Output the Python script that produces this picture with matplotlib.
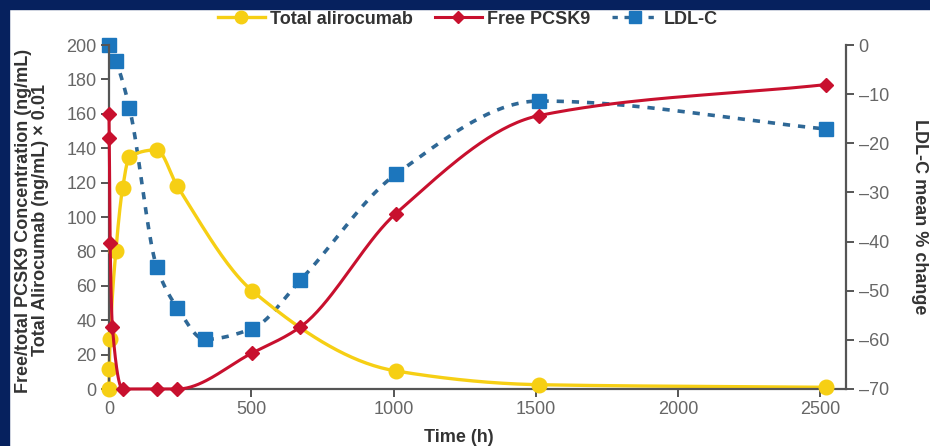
import numpy as np
import matplotlib
matplotlib.use("Agg")
import matplotlib.pyplot as plt
from matplotlib.patches import Rectangle

# ---- data ----
t_alir = [0, 1, 4, 24, 48, 72, 168, 240, 504, 1008, 1512, 2520]
alir = [0, 11.5, 29, 80, 117, 135, 139, 118, 57, 10.5, 2.5, 1]

t_pcsk9 = [0, 1, 4, 12, 48, 168, 240, 504, 672, 1008, 1512, 2520]
pcsk9 = [160, 146, 85, 36, 0, 0, 0, 21, 36, 102, 159, 177]

t_ldl = [0, 24, 72, 168, 240, 336, 504, 672, 1008, 1512, 2520]
ldl = [0, -3.2, -12.8, -45.2, -53.5, -59.9, -57.7, -47.9, -26.3, -11.4, -17.1]

xticks = [0, 500, 1000, 1500, 2000, 2500]
yticks_left = list(range(0, 201, 20))
yticks_right = list(range(-70, 1, 10))

YELLOW = "#f6cf14"
RED = "#c8102e"
BLUE = "#1c76bd"
BLUE_LINE = "#2f6896"
NAVY = "#06215e"
GREY = "#555555"


def pchip(x, y):
    # monotone cubic through the points, only used to draw a smooth line
    x = np.asarray(x, float)
    y = np.asarray(y, float)
    h = np.diff(x)
    d = np.diff(y) / h
    m = np.zeros_like(y)
    for k in range(1, len(x) - 1):
        if d[k - 1] * d[k] > 0:
            w1 = 2 * h[k] + h[k - 1]
            w2 = h[k] + 2 * h[k - 1]
            m[k] = (w1 + w2) / (w1 / d[k - 1] + w2 / d[k])
    m[0] = d[0]
    m[-1] = d[-1]
    xs, ys = [], []
    tt = np.linspace(0, 1, 40)
    h00 = 2 * tt**3 - 3 * tt**2 + 1
    h10 = tt**3 - 2 * tt**2 + tt
    h01 = -2 * tt**3 + 3 * tt**2
    h11 = tt**3 - tt**2
    for k in range(len(h)):
        xs.append(x[k] + tt * h[k])
        ys.append(h00 * y[k] + h10 * h[k] * m[k] + h01 * y[k + 1] + h11 * h[k] * m[k + 1])
    return np.concatenate(xs), np.concatenate(ys)


plt.rcParams['font.family'] = ['Liberation Sans', 'DejaVu Sans']

fig = plt.figure(figsize=(9.3, 4.46), dpi=100)
fig.patch.set_facecolor("white")
# navy frame at top and left
fig.patches.append(Rectangle((0, 1 - 9 / 446), 1, 9 / 446, transform=fig.transFigure, color=NAVY, zorder=0))
fig.patches.append(Rectangle((0, 0), 9 / 930, 1, transform=fig.transFigure, color=NAVY, zorder=0))

ax = fig.add_axes([109 / 930, 57 / 446, 737 / 930, 344 / 446])
ax2 = ax.twinx()
ax.set_zorder(ax2.get_zorder() + 1)
ax.patch.set_visible(False)

# LDL-C on the right axis
xs, ys = pchip(t_ldl, ldl)
ax2.plot(xs, ys, color=BLUE_LINE, lw=2.6, dashes=(2.0, 2.2), zorder=2)
ax2.plot(t_ldl, ldl, ls="none", marker="s", ms=10, color=BLUE, mec=BLUE, clip_on=False, zorder=3)

# Total alirocumab and free PCSK9 on the left axis
xs, ys = pchip(t_alir, alir)
ax.plot(xs, ys, color=YELLOW, lw=2.4, zorder=2, clip_on=False)
ax.plot(t_alir, alir, ls="none", marker="o", ms=10.5, color=YELLOW, clip_on=False, zorder=3)

xs, ys = pchip(t_pcsk9, pcsk9)
ax.plot(xs, ys, color=RED, lw=2.2, zorder=4, clip_on=False)
ax.plot(t_pcsk9, pcsk9, ls="none", marker="D", ms=7, color=RED, clip_on=False, zorder=5)

ax.set_xlim(0, 2590)
ax.set_ylim(0, 200)
ax2.set_ylim(-70, 0)

for a in (ax, ax2):
    a.spines["top"].set_visible(False)
    for s in a.spines.values():
        s.set_color(GREY)
        s.set_linewidth(1.6)
ax.spines["right"].set_visible(False)
ax2.spines["left"].set_visible(False)
ax2.spines["bottom"].set_visible(False)

ax.set_xticks(xticks)
ax.set_yticks(yticks_left)
ax2.set_yticks(yticks_right)
ax2.set_yticklabels([str(v).replace("-", "\u2013") for v in yticks_right])
ax.tick_params(axis="both", colors=GREY, labelcolor="#666666", labelsize=13, length=6, width=1.4,
               direction="out", pad=3)
ax2.tick_params(axis="y", colors=GREY, labelcolor="#666666", labelsize=13, length=6, width=1.4,
                direction="out", pad=3)

ax.set_xlabel("Time (h)", fontsize=13, fontweight="bold", color="#333333")
ax.xaxis.set_label_coords(0.475, -0.115)
ax.set_ylabel("Free/total PCSK9 Concentration (ng/mL)\nTotal Alirocumab (ng/mL) \u00d7 0.01",
              fontsize=13, fontweight="bold", color="#333333", linespacing=1.05)
ax.yaxis.set_label_coords(-0.081, 0.49)
ax2.set_ylabel("LDL-C mean % change", fontsize=13, fontweight="bold", color="#333333", rotation=270)
ax2.yaxis.set_label_coords(1.111, 0.5)

# legend at top
h1, = ax.plot([], [], color=YELLOW, lw=2.4, marker="o", ms=9)
h2, = ax.plot([], [], color=RED, lw=2.2, marker="D", ms=6)
h3, = ax.plot([], [], color=BLUE_LINE, lw=2.4, dashes=(1.6, 2.0), marker="s", ms=8, mfc=BLUE, mec=BLUE)
fig.legend([h1, h2, h3], ["Total alirocumab", "Free PCSK9", "LDL-C"], loc="center",
           bbox_to_anchor=(468 / 930, 1 - 19 / 446), ncol=3, frameon=False,
           prop={"weight": "bold", "size": 13}, handlelength=2.6, columnspacing=1.2,
           handletextpad=0.3, labelcolor="#333333")

fig.savefig("out.png", dpi=100)
